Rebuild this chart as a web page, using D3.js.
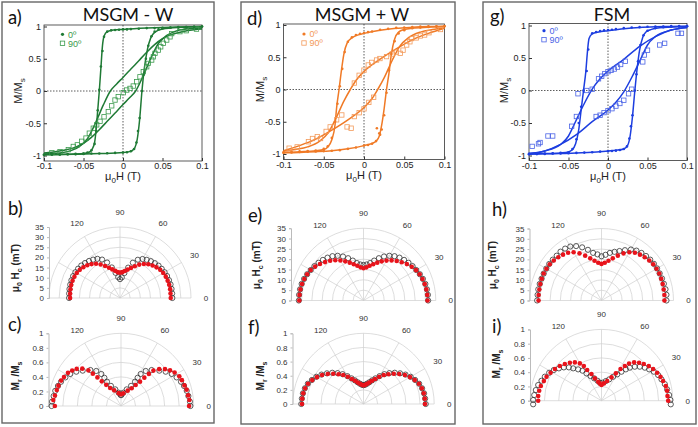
<!DOCTYPE html>
<html><head><meta charset="utf-8">
<script src="https://cdn.jsdelivr.net/npm/d3@7"></script>
<style>body{margin:0;background:#fff}svg{display:block}</style>
</head><body>
<svg id="c" width="698" height="427"></svg>
<script>
// ---------- DATA ----------
const xTicks = [-0.1,-0.05,0,0.05,0.1];
const xTickLabels = ["-0.1","-0.05","0","0.05","0.1"];
const yTicks = [-1,-0.5,0,0.5,1];
const yTickLabels = ["-1","-0.5","0","0.5","1"];
const hcTicks = [0,5,10,15,20,25,30,35];
const mrTicks = [0,0.2,0.4,0.6,0.8,1];
const mrTickLabels = ["0","0.2","0.4","0.6","0.8","1"];
const spokeAngles = [0,30,60,90,120,150,180];
const angleLabels = [0,30,60,90,120];
const angles5 = [0,5,10,15,20,25,30,35,40,45,50,55,60,65,70,75,80,85,90,95,100,105,110,115,120,125,130,135,140,145,150,155,160,165,170,175,180];

// Panel a (MSGM - W) hysteresis
const a_fit0_up = [[-0.1,-0.985],[-0.07,-0.98],[-0.05,-0.97],[-0.043,-0.95],[-0.039,-0.9],[-0.036,-0.8],[-0.034,-0.6],[-0.032,-0.3],[-0.03,0],[-0.028,0.35],[-0.026,0.7],[-0.024,0.85],[-0.02,0.92],[-0.012,0.945],[0,0.955],[0.03,0.975],[0.06,0.99],[0.1,1.0]];
const a_fit0_dn = [[-0.1,-0.99],[-0.06,-0.98],[-0.03,-0.97],[0,-0.955],[0.008,-0.94],[0.012,-0.92],[0.015,-0.88],[0.018,-0.75],[0.021,-0.45],[0.024,0],[0.027,0.35],[0.031,0.65],[0.035,0.82],[0.04,0.91],[0.05,0.96],[0.07,0.985],[0.1,0.995]];
const a_fit90_up = [[-0.1,-0.975],[-0.08,-0.96],[-0.065,-0.92],[-0.055,-0.86],[-0.045,-0.74],[-0.035,-0.5],[-0.025,-0.22],[-0.016,0],[-0.008,0.11],[0,0.21],[0.01,0.34],[0.02,0.47],[0.03,0.6],[0.04,0.72],[0.05,0.81],[0.06,0.87],[0.075,0.92],[0.09,0.95],[0.1,0.96]];
const a_fit90_dn = [[-0.1,-0.96],[-0.09,-0.95],[-0.075,-0.92],[-0.06,-0.87],[-0.05,-0.81],[-0.04,-0.72],[-0.03,-0.6],[-0.02,-0.47],[-0.01,-0.34],[0,-0.21],[0.008,-0.11],[0.016,0],[0.025,0.22],[0.035,0.5],[0.045,0.74],[0.055,0.86],[0.065,0.92],[0.08,0.96],[0.1,0.975]];
const a_pts0_up = [[0.1,1.0],[0.09,0.995],[0.08,0.99],[0.07,0.985],[0.06,0.985],[0.05,0.98],[0.04,0.975],[0.03,0.975],[0.02,0.965],[0.01,0.96],[0.005,0.955],[0,0.955],[-0.005,0.95],[-0.01,0.945],[-0.015,0.94],[-0.02,0.92],[-0.024,0.84],[-0.026,0.62],[-0.028,0.38],[-0.03,0.02],[-0.032,-0.3],[-0.034,-0.62],[-0.036,-0.82],[-0.04,-0.92],[-0.045,-0.955],[-0.05,-0.97],[-0.06,-0.975],[-0.07,-0.98],[-0.08,-0.985],[-0.09,-0.985],[-0.1,-0.99]];
const a_pts0_dn = [[-0.1,-0.99],[-0.09,-0.985],[-0.08,-0.985],[-0.07,-0.98],[-0.06,-0.98],[-0.05,-0.975],[-0.04,-0.97],[-0.03,-0.97],[-0.02,-0.965],[-0.01,-0.96],[0,-0.955],[0.005,-0.95],[0.01,-0.935],[0.014,-0.9],[0.017,-0.8],[0.019,-0.62],[0.021,-0.42],[0.024,0.0],[0.026,0.25],[0.029,0.5],[0.032,0.7],[0.036,0.85],[0.04,0.92],[0.045,0.955],[0.05,0.97],[0.06,0.98],[0.07,0.99],[0.08,0.99],[0.09,0.995],[0.1,1.0]];
const a_pts90 = [[0.093,0.96],[0.08,0.935],[0.072,0.92],[0.0616,0.89],[0.0595,0.84],[0.0553,0.79],[0.051,0.74],[0.0477,0.685],[0.0447,0.634],[0.0405,0.583],[0.0384,0.53],[0.0363,0.48],[0.032,0.428],[0.03,0.376],[0.0257,0.3],[0.0215,0.22],[0.0173,0.144],[0.013,0.077],[0.0089,0.04],[0.0047,0.015],[0.0004,-0.026],[-0.006,-0.088],[-0.0101,-0.14],[-0.0143,-0.23],[-0.0186,-0.32],[-0.024,-0.4],[-0.0291,-0.47],[-0.0333,-0.525],[-0.0376,-0.577],[-0.0426,-0.654],[-0.0468,-0.73],[-0.0523,-0.78],[-0.0578,-0.835],[-0.0629,-0.86],[-0.0692,-0.91],[-0.0797,-0.94],[-0.09,-0.955]];

// Panel d (MSGM + W)
const d_fit0_up = [[-0.1,-0.975],[-0.08,-0.965],[-0.06,-0.95],[-0.05,-0.93],[-0.045,-0.89],[-0.04,-0.78],[-0.036,-0.55],[-0.034,-0.28],[-0.031,0],[-0.028,0.3],[-0.025,0.55],[-0.021,0.72],[-0.015,0.8],[-0.01,0.835],[0,0.87],[0.02,0.92],[0.04,0.95],[0.06,0.965],[0.08,0.975],[0.1,0.98]];
const d_fit0_dn = [[-0.1,-0.98],[-0.08,-0.975],[-0.06,-0.965],[-0.04,-0.95],[-0.02,-0.92],[0,-0.87],[0.01,-0.835],[0.015,-0.8],[0.019,-0.72],[0.022,-0.55],[0.025,-0.3],[0.028,0],[0.031,0.25],[0.034,0.55],[0.038,0.78],[0.043,0.89],[0.05,0.93],[0.06,0.95],[0.08,0.965],[0.1,0.975]];
const d_fit90_up = [[-0.1,-0.955],[-0.085,-0.93],[-0.07,-0.89],[-0.055,-0.8],[-0.045,-0.68],[-0.035,-0.45],[-0.025,-0.18],[-0.017,0],[-0.01,0.14],[0,0.28],[0.02,0.47],[0.04,0.63],[0.06,0.77],[0.08,0.87],[0.1,0.95]];
const d_fit90_dn = [[-0.1,-0.95],[-0.08,-0.87],[-0.06,-0.77],[-0.04,-0.63],[-0.02,-0.47],[0,-0.28],[0.01,-0.14],[0.017,0],[0.025,0.18],[0.035,0.45],[0.045,0.68],[0.055,0.8],[0.07,0.89],[0.085,0.93],[0.1,0.955]];
const d_pts0_up = [[0.1,0.985],[0.09,0.98],[0.08,0.98],[0.07,0.975],[0.06,0.97],[0.05,0.96],[0.04,0.955],[0.03,0.94],[0.02,0.925],[0.01,0.9],[0.005,0.89],[0,0.875],[-0.005,0.865],[-0.01,0.845],[-0.015,0.81],[-0.02,0.74],[-0.024,0.58],[-0.027,0.32],[-0.03,0.05],[-0.033,-0.22],[-0.036,-0.5],[-0.04,-0.75],[-0.045,-0.88],[-0.05,-0.92],[-0.06,-0.945],[-0.07,-0.955],[-0.08,-0.96],[-0.09,-0.97],[-0.1,-0.975]];
const d_pts0_dn = [[-0.1,-0.98],[-0.09,-0.975],[-0.08,-0.97],[-0.07,-0.965],[-0.06,-0.96],[-0.05,-0.955],[-0.04,-0.95],[-0.03,-0.94],[-0.02,-0.92],[-0.01,-0.9],[0,-0.87],[0.005,-0.86],[0.01,-0.84],[0.015,-0.8],[0.016,-0.6],[0.019,-0.68],[0.02,-0.7],[0.022,-0.62],[0.025,-0.4],[0.028,-0.05],[0.031,0.3],[0.034,0.55],[0.038,0.75],[0.043,0.87],[0.05,0.92],[0.06,0.95],[0.07,0.96],[0.08,0.97],[0.09,0.975],[0.1,0.98]];
const d_pts90 = [[0.095,0.93],[0.0807,0.88],[0.0753,0.845],[0.07,0.83],[0.065,0.8],[0.059,0.79],[0.057,0.74],[0.053,0.69],[0.0485,0.61],[0.045,0.56],[0.04,0.58],[0.035,0.55],[0.028,0.51],[0.0198,0.48],[0.0156,0.457],[0.0095,0.42],[0.0053,0.38],[0,0.3],[-0.006,0.22],[-0.012,0.1],[0.012,-0.12],[0.006,-0.2],[0,-0.3],[-0.006,-0.36],[-0.012,-0.42],[-0.016,-0.6],[-0.021,-0.58],[-0.0276,-0.395],[-0.034,-0.47],[-0.042,-0.58],[-0.047,-0.65],[-0.054,-0.76],[-0.058,-0.73],[-0.064,-0.76],[-0.069,-0.81],[-0.083,-0.89],[-0.093,-0.91]];

// Panel g (FSM)
const g_fit0_up = [[-0.1,-0.975],[-0.08,-0.97],[-0.06,-0.96],[-0.05,-0.945],[-0.046,-0.92],[-0.041,-0.82],[-0.037,-0.6],[-0.034,-0.3],[-0.031,0],[-0.028,0.3],[-0.026,0.6],[-0.024,0.8],[-0.02,0.87],[-0.012,0.9],[0,0.92],[0.02,0.95],[0.04,0.97],[0.06,0.98],[0.08,0.985],[0.1,0.99]];
const g_fit0_dn = [[-0.1,-0.98],[-0.08,-0.975],[-0.06,-0.97],[-0.04,-0.96],[-0.02,-0.95],[0,-0.93],[0.01,-0.92],[0.02,-0.9],[0.025,-0.84],[0.028,-0.7],[0.031,-0.4],[0.034,0],[0.037,0.35],[0.04,0.62],[0.044,0.82],[0.048,0.9],[0.055,0.94],[0.07,0.97],[0.1,0.985]];
const g_fit90_up = [[-0.1,-0.97],[-0.08,-0.93],[-0.06,-0.83],[-0.05,-0.7],[-0.045,-0.58],[-0.04,-0.45],[-0.03,-0.2],[-0.02,0.02],[-0.01,0.18],[0,0.3],[0.02,0.48],[0.04,0.68],[0.06,0.83],[0.08,0.93],[0.1,0.97]];
const g_fit90_dn = [[-0.1,-0.97],[-0.08,-0.93],[-0.06,-0.83],[-0.04,-0.68],[-0.02,-0.48],[0,-0.3],[0.01,-0.18],[0.02,-0.02],[0.03,0.2],[0.04,0.45],[0.045,0.58],[0.05,0.7],[0.06,0.83],[0.08,0.93],[0.1,0.97]];
const g_pts0_up = [[0.1,0.99],[0.09,0.99],[0.08,0.99],[0.07,0.985],[0.06,0.985],[0.05,0.98],[0.04,0.975],[0.03,0.97],[0.02,0.96],[0.01,0.945],[0.005,0.935],[0,0.93],[-0.005,0.925],[-0.01,0.915],[-0.015,0.9],[-0.02,0.88],[-0.025,0.63],[-0.027,0.3],[-0.031,0.0],[-0.034,-0.25],[-0.037,-0.5],[-0.04,-0.75],[-0.045,-0.9],[-0.05,-0.95],[-0.06,-0.96],[-0.07,-0.965],[-0.08,-0.97],[-0.09,-0.975],[-0.1,-0.975]];
const g_pts0_dn = [[-0.1,-0.98],[-0.09,-0.975],[-0.08,-0.975],[-0.07,-0.97],[-0.06,-0.97],[-0.05,-0.965],[-0.04,-0.96],[-0.03,-0.955],[-0.02,-0.95],[-0.01,-0.94],[0,-0.935],[0.005,-0.93],[0.01,-0.925],[0.015,-0.915],[0.02,-0.9],[0.024,-0.86],[0.027,-0.74],[0.029,-0.55],[0.031,-0.38],[0.034,0.0],[0.036,0.25],[0.038,0.45],[0.041,0.7],[0.045,0.85],[0.05,0.92],[0.06,0.96],[0.07,0.975],[0.08,0.98],[0.09,0.985],[0.1,0.99]];
const g_pts90 = [[0.093,0.88],[0.0886,0.88],[0.0717,0.726],[0.0654,0.7],[0.05,0.62],[0.046,0.546],[0.044,0.44],[0.022,0.45],[0.016,0.4],[0.012,0.36],[0.008,0.33],[0.004,0.31],[0,0.29],[-0.004,0.26],[-0.008,0.22],[-0.012,0.18],[-0.02,0.02],[-0.027,0.0],[0.03,0.02],[0.026,-0.05],[0.02,-0.15],[0.015,-0.2],[0.01,-0.24],[0.005,-0.28],[0,-0.31],[-0.005,-0.34],[-0.01,-0.38],[-0.015,-0.4],[-0.038,-0.05],[-0.04,-0.4],[-0.046,-0.55],[-0.07,-0.7],[-0.076,-0.7],[-0.086,-0.8],[-0.088,-0.82],[-0.096,-0.86]];

// Polar data
const b_red = [25.0,25.0,25.1,25.1,25.0,24.9,24.6,24.2,23.5,22.7,21.7,20.5,19.0,17.3,15.8,14.5,13.5,12.8,12.5,12.8,13.6,14.6,15.9,17.4,19.1,20.6,21.8,22.8,23.6,24.2,24.6,24.8,24.9,24.9,24.8,24.7,24.6];
const b_black = [25.8,25.8,25.8,25.8,25.7,25.6,25.4,25.1,24.8,24.3,23.7,23.0,22.2,20.8,18.5,15.5,12.5,10.2,9.3,10.3,12.6,15.6,18.6,20.9,22.3,23.1,23.8,24.4,24.9,25.2,25.4,25.5,25.5,25.4,25.3,25.2,25.1];
const c_red_ang = [0,5,9,14,18,23,27,32,36,40,44,47.5,49,50.5,52,55,59,66.5,79.5,90,100.5,113.5,121,125,128,129.5,131,132.5,136,140,144,148,153,157,162,166,171,175,180];
const c_red = [0.936,0.944,0.934,0.93,0.918,0.91,0.9,0.87,0.834,0.79,0.73,0.66,0.585,0.505,0.425,0.352,0.285,0.23,0.177,0.16,0.18,0.235,0.29,0.355,0.43,0.51,0.59,0.665,0.74,0.795,0.83,0.86,0.88,0.895,0.905,0.91,0.92,0.935,0.91];
const c_black_ang = [0,3.6,8.4,13,17.6,22,27.2,32.3,37.5,42.7,49.6,54.8,58.4,59.5,60,63.4,71,80,88,92,100,109,116.6,120,120.5,121.6,125.2,130.4,137.3,142.5,147.7,152.8,158,162.4,167,171.6,176.4,180];
const c_black = [0.955,0.95,0.937,0.928,0.91,0.89,0.86,0.825,0.775,0.717,0.65,0.59,0.517,0.45,0.386,0.31,0.242,0.186,0.151,0.151,0.186,0.242,0.31,0.386,0.45,0.517,0.59,0.65,0.717,0.775,0.825,0.86,0.89,0.91,0.928,0.937,0.95,0.955];
const e_red = [31.0,31.0,30.9,30.7,30.4,30.0,29.4,28.5,27.4,26.2,25.0,23.7,22.3,20.9,19.5,18.2,17.1,16.1,15.6,16.1,17.1,18.2,19.5,20.9,22.4,23.8,25.1,26.3,27.5,28.6,29.5,30.1,30.5,30.8,31.0,31.1,31.1];
const e_black = [31.3,31.3,31.2,31.0,30.6,30.1,29.5,29.0,28.4,27.8,27.1,26.2,25.0,23.5,21.8,20.0,18.4,17.5,17.2,17.5,18.4,20.0,21.8,23.5,25.0,26.2,27.1,27.8,28.4,29.0,29.5,30.1,30.6,31.0,31.2,31.3,31.3];
const f_red = [0.87,0.87,0.866,0.855,0.835,0.8,0.76,0.715,0.66,0.605,0.55,0.5,0.445,0.39,0.35,0.315,0.29,0.272,0.264,0.272,0.29,0.315,0.35,0.39,0.445,0.5,0.55,0.605,0.66,0.715,0.76,0.8,0.835,0.855,0.866,0.87,0.87];
const f_black = [0.88,0.875,0.87,0.858,0.838,0.805,0.77,0.725,0.675,0.625,0.57,0.515,0.455,0.4,0.355,0.318,0.292,0.274,0.266,0.274,0.292,0.318,0.355,0.4,0.455,0.515,0.57,0.625,0.675,0.725,0.77,0.805,0.838,0.858,0.87,0.875,0.88];
const h_red = [30.6,30.7,30.7,30.8,30.9,31.0,30.9,30.7,30.3,29.7,29.1,28.3,27.1,25.3,23.2,21.2,19.6,18.4,17.8,18.4,19.6,21.2,23.2,25.3,27.1,28.3,29.1,29.7,30.3,30.7,30.9,31.0,30.9,30.8,30.7,30.7,30.6];
const h_black = [31.6,31.7,31.6,31.4,31.3,31.2,31.2,31.1,30.9,30.6,30.2,29.6,28.6,27.0,25.6,24.5,23.5,22.3,21.5,22.5,23.5,25.5,27.5,29.2,30.3,30.8,31.0,30.8,30.9,31.0,31.0,31.0,31.0,31.1,31.2,31.2,31.3];
const i_red_ang = [0,4,8.7,12.8,17.7,22,26.7,31.5,36.2,40.9,45.3,49.6,53.5,56,59,62.3,66.8,74,82,90,95.5,100,106.6,110.6,115,117,120.1,124.8,129.8,135,140.2,145.8,151.2,156.4,161.2,166.4,170.9,175.8,180];
const i_red = [0.935,0.928,0.93,0.925,0.907,0.893,0.874,0.85,0.822,0.785,0.75,0.706,0.65,0.586,0.518,0.433,0.356,0.287,0.245,0.22,0.244,0.27,0.327,0.4,0.475,0.545,0.605,0.654,0.693,0.727,0.76,0.79,0.815,0.841,0.854,0.875,0.885,0.89,0.888];
const i_black_ang = [-3,0.6,4.8,9.8,14.7,19.6,24.4,29,33.3,37.3,41.6,45.6,49.4,52.2,55.4,59.2,64,70.2,77.6,86.8,95.3,101.3,108.2,114,118.8,122.3,126.7,131.2,134.4,138.5,142.8,147.2,151.9,157,161.6,166.1,170.8,175.2,179.4,183];
const i_black = [0.973,0.967,0.952,0.934,0.918,0.893,0.872,0.839,0.8,0.764,0.718,0.667,0.61,0.556,0.494,0.43,0.374,0.318,0.282,0.253,0.253,0.286,0.33,0.379,0.437,0.498,0.548,0.603,0.654,0.705,0.75,0.795,0.832,0.863,0.887,0.915,0.933,0.947,0.958,0.96];

// ---------- DRAWING ----------
const svg = d3.select("#c");
const FONT = "'Liberation Sans', Arial, sans-serif";
const TFONT = "Lato, 'Open Sans', sans-serif";

// panel boxes
[[2,2,212,421],[241,2,214,422],[483,2,213,422]].forEach(b=>{
  svg.append("rect").attr("x",b[0]).attr("y",b[1]).attr("width",b[2]).attr("height",b[3])
    .attr("fill","none").attr("stroke","#666").attr("stroke-width",1.4);
});

function letter(t,x,y){ svg.append("text").attr("x",x).attr("y",y).attr("font-family",TFONT).attr("font-size",18.5).attr("fill","#111").text(t); }

function loopPanel(c){
  const x = d3.scaleLinear().domain([-0.1,0.1]).range([c.x0,c.x1]);
  const y = d3.scaleLinear().domain([-1,1]).range([c.yb,c.yt]);
  const g = svg.append("g");
  g.append("rect").attr("x",c.x0).attr("y",c.ft).attr("width",c.x1-c.x0).attr("height",c.fb-c.ft)
    .attr("fill","none").attr("stroke","#333").attr("stroke-width",0.8);
  const xa = g.append("g").attr("transform",`translate(0,${c.fb})`)
    .call(d3.axisBottom(x).tickValues(xTicks).tickFormat((d,i)=>xTickLabels[i]).tickSizeInner(-3).tickSizeOuter(0).tickPadding(2));
  const ya = g.append("g").attr("transform",`translate(${c.x0},0)`)
    .call(d3.axisLeft(y).tickValues(yTicks).tickFormat((d,i)=>yTickLabels[i]).tickSizeInner(-3).tickSizeOuter(0).tickPadding(3));
  [xa,ya].forEach(a=>{ a.select(".domain").remove(); a.selectAll("line").attr("stroke","#333");
    a.selectAll("text").attr("font-family",FONT).attr("font-size",9).attr("fill","#222"); });
  // zero lines
  g.append("line").attr("x1",x(0)).attr("x2",x(0)).attr("y1",c.ft).attr("y2",c.fb).attr("stroke","#333").attr("stroke-width",0.8).attr("stroke-dasharray","1.5,1.5");
  g.append("line").attr("x1",c.x0).attr("x2",c.x1).attr("y1",y(0)).attr("y2",y(0)).attr("stroke","#333").attr("stroke-width",0.8).attr("stroke-dasharray","1.5,1.5");
  const line = d3.line().x(d=>x(d[0])).y(d=>y(d[1])).curve(d3.curveMonotoneX);
  [c.f0u,c.f0d,c.f90u,c.f90d].forEach(dd=>{
    g.append("path").attr("d",line(dd)).attr("fill","none").attr("stroke",c.col).attr("stroke-width",1.5);
  });
  g.selectAll(null).data(c.p90).enter().append("rect")
    .attr("x",d=>x(d[0])-2.2).attr("y",d=>y(d[1])-2.2).attr("width",4.4).attr("height",4.4)
    .attr("fill","none").attr("stroke",c.col2).attr("stroke-width",0.8);
  g.selectAll(null).data(c.p0u.concat(c.p0d)).enter().append("circle")
    .attr("cx",d=>x(d[0])).attr("cy",d=>y(d[1])).attr("r",1.3).attr("fill",c.col);
  // legend
  g.append("circle").attr("cx",c.lx).attr("cy",c.ly).attr("r",1.6).attr("fill",c.col);
  g.append("rect").attr("x",c.lx-2.2).attr("y",c.ly+9-2.2).attr("width",4.4).attr("height",4.4).attr("fill","none").attr("stroke",c.col2).attr("stroke-width",0.8);
  g.append("text").attr("x",c.lx+5.5).attr("y",c.ly+3.3).attr("font-family",FONT).attr("font-size",9).attr("fill",c.col2).text("0º");
  g.append("text").attr("x",c.lx+5.5).attr("y",c.ly+12.3).attr("font-family",FONT).attr("font-size",9).attr("fill",c.col2).text("90º");
  // axis titles
  const xt = g.append("text").attr("x",x(0)).attr("y",c.fb+19).attr("text-anchor","middle").attr("font-family",FONT).attr("font-size",11).attr("fill","#222");
  xt.append("tspan").text("μ"); xt.append("tspan").attr("dy",3).attr("font-size",8).text("0"); xt.append("tspan").attr("dy",-3).text("H (T)");
  const yt = g.append("text").attr("transform",`translate(${c.ytx},${y(0)}) rotate(-90)`).attr("text-anchor","middle").attr("font-family",FONT).attr("font-size",11).attr("fill","#222");
  yt.append("tspan").text("M/M"); yt.append("tspan").attr("dy",3).attr("font-size",8).text("s");
  // title
  svg.append("text").attr("x",c.tx).attr("y",21).attr("text-anchor","middle").attr("font-family",TFONT).attr("font-size",18).attr("fill","#111").text(c.title);
}

function polarPanel(c){
  const r = d3.scaleLinear().domain([0,c.max]).range([0,c.R]);
  const g = svg.append("g");
  const gc = "#cfcfcf";
  c.ticks.slice(1).forEach(t=>{
    const rr = r(t);
    g.append("path").attr("d",`M${c.cx-rr},${c.cy}A${rr},${rr} 0 0 1 ${c.cx+rr},${c.cy}`).attr("fill","none").attr("stroke",gc).attr("stroke-width",0.7);
  });
  spokeAngles.forEach(a=>{
    const p = d3.pointRadial((90-a)*Math.PI/180, c.R);
    g.append("line").attr("x1",c.cx).attr("y1",c.cy).attr("x2",c.cx+p[0]).attr("y2",c.cy+p[1]).attr("stroke",gc).attr("stroke-width",0.7);
  });
  // radial axis (left)
  const ry = d3.scaleLinear().domain([0,c.max]).range([c.cy,c.cy-c.R]);
  const ax = g.append("g").attr("transform",`translate(${c.ax},0)`)
    .call(d3.axisLeft(ry).tickValues(c.ticks).tickFormat((d,i)=>c.labels[i]).tickSize(2).tickPadding(3));
  ax.select(".domain").attr("stroke","#bbb");
  ax.selectAll("line").attr("stroke","#bbb");
  ax.selectAll("text").attr("font-family",FONT).attr("font-size",8).attr("fill","#333");
  angleLabels.forEach(a=>{
    const p = d3.pointRadial((90-a)*Math.PI/180, c.R+15);
    g.append("text").attr("x",c.cx+p[0]).attr("y",c.cy+p[1]).attr("dy","0.35em").attr("text-anchor","middle")
      .attr("font-family",FONT).attr("font-size",8).attr("fill","#333").text(a);
  });
  const pt = (a,v)=>{ const p=d3.pointRadial((90-a)*Math.PI/180, r(v)); return [c.cx+p[0], c.cy+p[1]]; };
  g.selectAll(null).data(d3.zip(c.bAng,c.black)).enter().append("circle")
    .attr("cx",d=>pt(d[0],d[1])[0]).attr("cy",d=>pt(d[0],d[1])[1]).attr("r",2.6)
    .attr("fill","none").attr("stroke","#333").attr("stroke-width",0.8);
  g.selectAll(null).data(d3.zip(c.rAng,c.red)).enter().append("circle")
    .attr("cx",d=>pt(d[0],d[1])[0]).attr("cy",d=>pt(d[0],d[1])[1]).attr("r",2.3)
    .attr("fill","#e8131b");
  // y title
  const t = g.append("text").attr("transform",`translate(${c.tx},${c.ty}) rotate(-90)`).attr("text-anchor","middle")
    .attr("font-family",FONT).attr("font-size",10).attr("font-weight","bold").attr("fill","#222");
  if (c.kind==="hc"){
    t.append("tspan").text("μ"); t.append("tspan").attr("dy",3).attr("font-size",7).text("0");
    t.append("tspan").attr("dy",-3).text(" H"); t.append("tspan").attr("dy",3).attr("font-size",7).text("c");
    t.append("tspan").attr("dy",-3).text(" (mT)");
  } else {
    t.append("tspan").text("M"); t.append("tspan").attr("dy",3).attr("font-size",7).text("r");
    t.append("tspan").attr("dy",-3).text(" /M"); t.append("tspan").attr("dy",3).attr("font-size",7).text("s");
  }
}

const hcLabels = hcTicks.map(String);
const green="#1f7a35", green2="#3a9a4c", orange="#f07a26", orange2="#f39a5a", blue="#1d3ee0", blue2="#4a63e6";

loopPanel({x0:44,x1:202,yt:26.5,yb:155.5,ft:25,fb:161,col:green,col2:green2,f0u:a_fit0_up,f0d:a_fit0_dn,f90u:a_fit90_up,f90d:a_fit90_dn,p0u:a_pts0_up,p0d:a_pts0_dn,p90:a_pts90,lx:62.5,ly:34.3,ytx:22,tx:128,title:"MSGM - W"});
loopPanel({x0:283.5,x1:444.5,yt:25,yb:154,ft:24,fb:159.5,col:orange,col2:orange2,f0u:d_fit0_up,f0d:d_fit0_dn,f90u:d_fit90_up,f90d:d_fit90_dn,p0u:d_pts0_up,p0d:d_pts0_dn,p90:d_pts90,lx:304,ly:34,ytx:264,tx:362,title:"MSGM + W"});
loopPanel({x0:529,x1:687,yt:25.5,yb:155.5,ft:23.5,fb:160.5,col:blue,col2:blue2,f0u:g_fit0_up,f0d:g_fit0_dn,f90u:g_fit90_up,f90d:g_fit90_dn,p0u:g_pts0_up,p0d:g_pts0_dn,p90:g_pts90,lx:544,ly:30.7,ytx:508,tx:612,title:"FSM"});

polarPanel({cx:120,cy:298,R:71,max:35,ticks:hcTicks,labels:hcLabels,ax:49,rAng:angles5,red:b_red,bAng:angles5,black:b_black,kind:"hc",tx:19,ty:268});
polarPanel({cx:121,cy:406,R:72.7,max:1,ticks:mrTicks,labels:mrTickLabels,ax:48.5,rAng:c_red_ang,red:c_red,bAng:c_black_ang,black:c_black,kind:"mr",tx:19,ty:376});
polarPanel({cx:363.5,cy:300.5,R:72.3,max:35,ticks:hcTicks,labels:hcLabels,ax:291,rAng:angles5,red:e_red,bAng:angles5,black:e_black,kind:"hc",tx:260,ty:265});
polarPanel({cx:363.5,cy:404,R:70.7,max:1,ticks:mrTicks,labels:mrTickLabels,ax:292.5,rAng:angles5,red:f_red,bAng:angles5,black:f_black,kind:"mr",tx:264,ty:376});
polarPanel({cx:601.5,cy:300.5,R:72,max:35,ticks:hcTicks,labels:hcLabels,ax:529.5,rAng:angles5,red:h_red,bAng:angles5,black:h_black,kind:"hc",tx:496,ty:265});
polarPanel({cx:601.5,cy:400.7,R:71.3,max:1,ticks:mrTicks,labels:mrTickLabels,ax:530,rAng:i_red_ang,red:i_red,bAng:i_black_ang,black:i_black,kind:"mr",tx:500,ty:364});

letter("a)",8,24); letter("b)",8,215); letter("c)",8,331);
letter("d)",247,25); letter("e)",248,222); letter("f)",248,334);
letter("g)",490,23); letter("h)",492,216); letter("i)",492,333);
</script>
</body></html>
